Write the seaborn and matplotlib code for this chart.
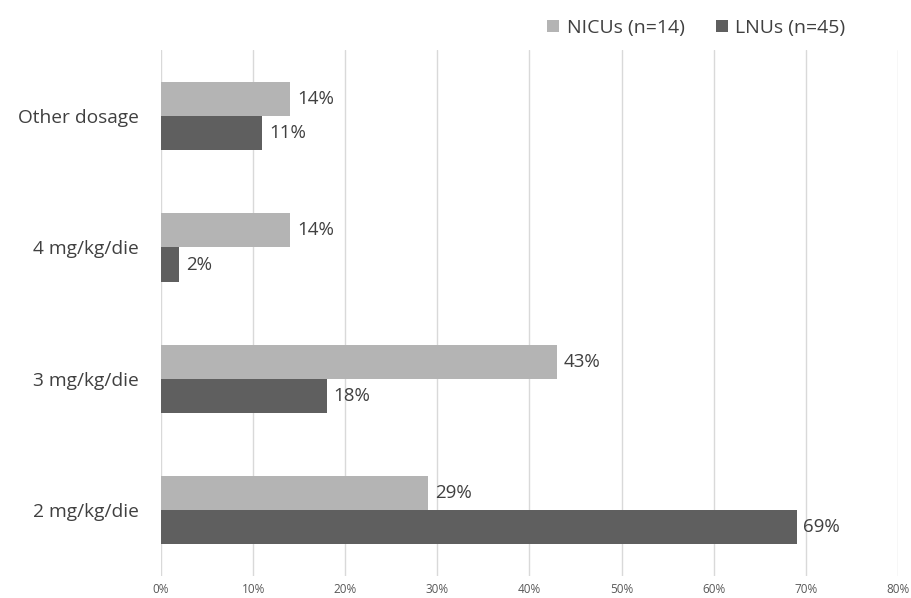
import matplotlib
matplotlib.use("Agg")
import matplotlib.pyplot as plt
import seaborn as sns
import pandas as pd
from matplotlib.patches import Patch

categories = ["Other dosage", "4 mg/kg/die", "3 mg/kg/die", "2 mg/kg/die"]
nicu_values = [14, 14, 43, 29]
lnu_values = [11, 2, 18, 69]
series_names = ["NICUs (n=14)", "LNUs (n=45)"]
x_ticks = [0, 10, 20, 30, 40, 50, 60, 70, 80]

df = pd.DataFrame({
    "category": categories * 2,
    "value": nicu_values + lnu_values,
    "series": [series_names[0]] * len(categories) + [series_names[1]] * len(categories),
})

sns.set_theme(style="white")
plt.rcParams["font.family"] = ["Open Sans", "DejaVu Sans"]

colors = ["#b4b4b4", "#5f5f5f"]
fig = plt.figure(figsize=(9.12, 5.98), dpi=100)
ax = fig.add_axes([0.1765, 0.0368, 0.808, 0.879])

sns.barplot(data=df, y="category", x="value", hue="series", order=categories,
            hue_order=series_names, palette=colors, orient="h", width=0.52,
            saturation=1, ax=ax, legend=False, edgecolor="none")

for cont in ax.containers:
    ax.bar_label(cont, labels=[f"{v:.0f}%" for v in cont.datavalues], padding=5,
                 fontsize=13.5, color="#404040")

ax.set_xlim(0, 80)
ax.set_ylim(3.5, -0.5)
ax.set_xticks(x_ticks)
ax.set_xticklabels([f"{t}%" for t in x_ticks], fontsize=8.5, color="#595959")
ax.tick_params(axis="x", length=0, pad=5)
ax.tick_params(axis="y", length=0, pad=16, labelsize=13.8, labelcolor="#404040")
ax.xaxis.grid(True, color="#d9d9d9", linewidth=1)
ax.set_axisbelow(True)
for s in ax.spines.values():
    s.set_visible(False)
ax.set_xlabel("")
ax.set_ylabel("")

handles = [Patch(facecolor=c, edgecolor="none") for c in colors]
fig.legend(handles, series_names, loc="upper right", bbox_to_anchor=(0.927, 0.968),
           ncol=2, frameon=False, fontsize=14, handlelength=0.6, handleheight=0.6,
           handletextpad=0.4, columnspacing=1.6, labelcolor="#404040",
           borderpad=0, borderaxespad=0)

fig.savefig("out.png", dpi=100)
